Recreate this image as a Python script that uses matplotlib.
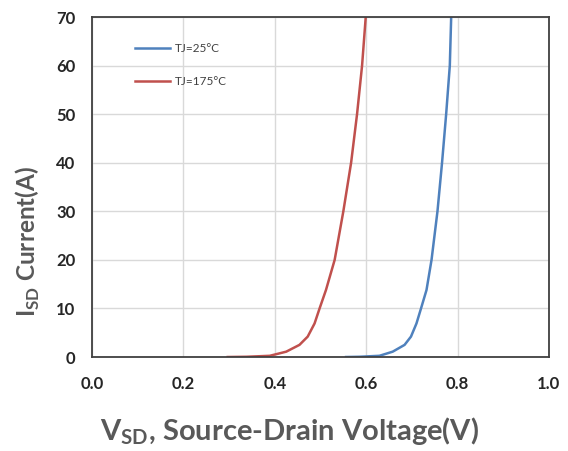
import matplotlib.pyplot as plt
import numpy as np

# forward characteristics
i_sd = [0, 0.05, 0.25, 1.1, 2.5, 4.2, 6.9, 10, 13.8, 20, 30, 40, 50, 60, 70]
v_25 = [0.556, 0.585, 0.629, 0.658, 0.684, 0.698, 0.710, 0.720, 0.732, 0.743,
        0.756, 0.766, 0.775, 0.783, 0.786]
v_175 = [0.297, 0.338, 0.389, 0.425, 0.454, 0.472, 0.487, 0.498, 0.512, 0.531,
         0.550, 0.567, 0.580, 0.591, 0.599]

x_ticks = [0.0, 0.2, 0.4, 0.6, 0.8, 1.0]
y_ticks = [0, 10, 20, 30, 40, 50, 60, 70]

plt.rcParams['font.family'] = ['Lato', 'DejaVu Sans']
plt.rcParams['mathtext.fontset'] = 'custom'
plt.rcParams['mathtext.rm'] = 'Lato:bold'

fig = plt.figure(figsize=(5.68, 4.51), dpi=100)
ax = fig.add_axes([0.162, 0.2084, 0.8045, 0.7539])

ax.plot(v_25, i_sd, color='#4F81BD', lw=1.8, label='TJ=25°C')
ax.plot(v_175, i_sd, color='#C0504D', lw=1.8, label='TJ=175°C')

ax.set_xlim(0, 1.0)
ax.set_ylim(0, 70)
ax.set_xticks(x_ticks)
ax.set_yticks(y_ticks)
ax.set_xticklabels(["%.1f" % v for v in x_ticks])
ax.grid(True, color='#D9D9D9', lw=1)
ax.set_axisbelow(True)
ax.tick_params(length=0, labelsize=12, colors='#262626')
ax.tick_params(axis='x', pad=14)
ax.tick_params(axis='y', pad=12)
for lbl in ax.get_xticklabels() + ax.get_yticklabels():
    lbl.set_fontweight('bold')
for s in ax.spines.values():
    s.set_color('#404040')
    s.set_linewidth(1.3)

ax.set_xlabel(r'V$_{\mathrm{SD}}$, Source-Drain Voltage(V)', fontsize=21,
              fontweight='bold', color='#595959', labelpad=16)
ax.xaxis.label.set_x(0.433)
ax.set_ylabel(r'I$_{\mathrm{SD}}$ Current(A)', fontsize=17.5,
              fontweight='bold', color='#595959')
ax.yaxis.set_label_coords(-0.11, 0.34)

leg = ax.legend(loc='upper left', bbox_to_anchor=(0.094, 0.924), frameon=False,
                fontsize=8.5, handlelength=3.0, handletextpad=0.35,
                labelspacing=1.9, borderpad=0, borderaxespad=0)
for t in leg.get_texts():
    t.set_color('#404040')

fig.savefig('out.png', dpi=100)
